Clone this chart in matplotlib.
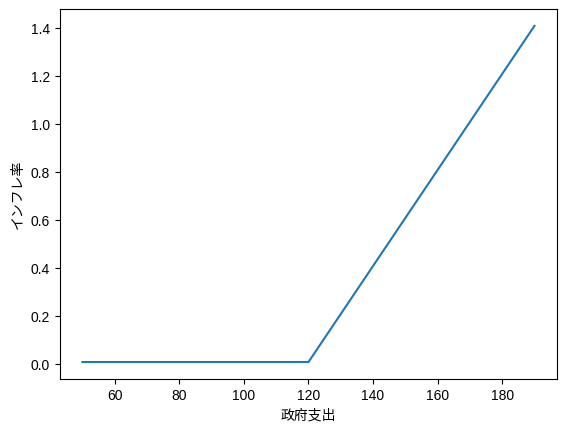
import matplotlib
matplotlib.use("Agg")
import matplotlib.pyplot as plt

plt.rcParams['font.family'] = ['Liberation Sans', 'Noto Sans CJK JP', 'DejaVu Sans']

gov_spending = [50, 120, 190]
inflation = [0.01, 0.01, 1.41]

fig = plt.figure(figsize=(5.65, 4.3), dpi=100)
ax = fig.add_axes([0.106, 0.119, 0.88, 0.86])
ax.plot(gov_spending, inflation, color='#1f77b4', linewidth=1.5)
ax.set_xlabel('政府支出')
ax.set_ylabel('インフレ率')
ax.set_yticks([0.0, 0.2, 0.4, 0.6, 0.8, 1.0, 1.2, 1.4])
fig.savefig('out.png', dpi=100)
